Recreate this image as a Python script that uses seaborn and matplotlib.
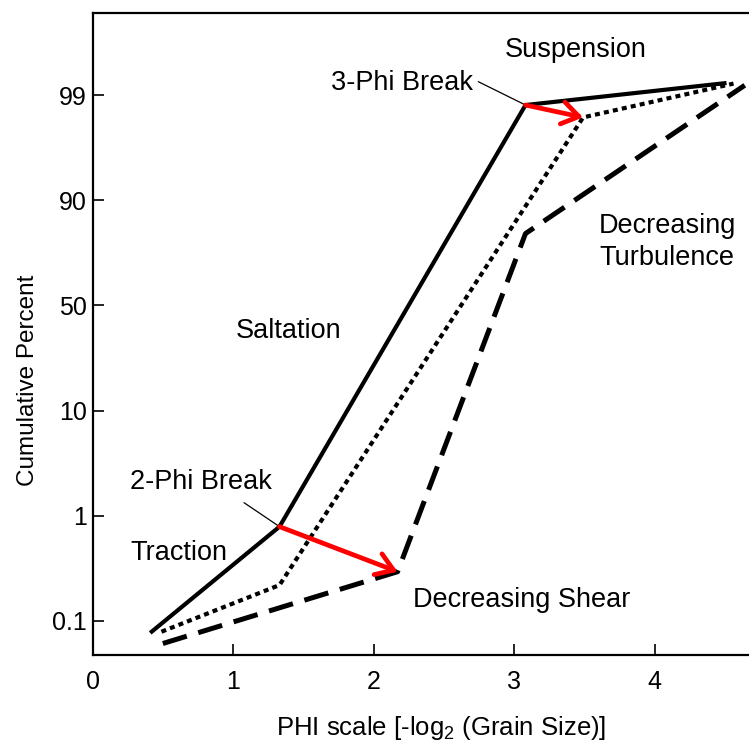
import numpy as np
import matplotlib
matplotlib.use("Agg")
import matplotlib.pyplot as plt
import seaborn as sns
from matplotlib.patches import ArrowStyle

# Cumulative grain-size curves: phi value and cumulative percent at each vertex
solid_phi = [0.41, 1.33, 3.08, 4.51]
solid_pct = [0.077, 0.79, 98.75, 99.24]
dotted_phi = [0.49, 1.33, 3.49, 4.56]
dotted_pct = [0.079, 0.22, 98.35, 99.23]
dashed_phi = [0.50, 2.17, 3.08, 4.64]
dashed_pct = [0.061, 0.295, 81.8, 99.2]

x_ticks = [0, 1, 2, 3, 4]
y_ticks = [0.1, 1, 10, 50, 90, 99]
y_tick_labels = ["0.1", "1", "10", "50", "90", "99"]
y_minor_ticks = [15, 20, 30, 40]

# Probability axis: major ticks evenly spaced, logit interpolation in between
_knots = np.log10(np.array(y_ticks) / (100.0 - np.array(y_ticks)))
_pos = np.arange(len(y_ticks), dtype=float)


def _interp_ext(v, xs, ys):
    v = np.asarray(v, dtype=float)
    out = np.interp(v, xs, ys)
    s0 = (ys[1] - ys[0]) / (xs[1] - xs[0])
    s1 = (ys[-1] - ys[-2]) / (xs[-1] - xs[-2])
    out = np.where(v < xs[0], ys[0] + (v - xs[0]) * s0, out)
    out = np.where(v > xs[-1], ys[-1] + (v - xs[-1]) * s1, out)
    return out


def pct_to_pos(p):
    p = np.clip(np.asarray(p, dtype=float), 1e-9, 100 - 1e-9)
    return _interp_ext(np.log10(p / (100.0 - p)), _knots, _pos)


def pos_to_pct(y):
    lg = np.clip(_interp_ext(y, _pos, _knots), -30, 30)
    r = 10.0 ** lg
    return 100.0 * r / (1.0 + r)


sns.set_theme(style="white")
plt.rcParams["font.family"] = ["Liberation Sans", "DejaVu Sans"]
plt.rcParams["mathtext.fontset"] = "custom"
plt.rcParams["mathtext.rm"] = "Liberation Sans"
plt.rcParams["mathtext.it"] = "Liberation Sans:italic"

fig = plt.figure(figsize=(7.49, 7.42), dpi=100)
ax = fig.add_axes([0.1236, 0.1173, 0.8764, 0.8656])
ax.set_yscale("function", functions=(pct_to_pos, pos_to_pct))

sns.lineplot(x=solid_phi, y=solid_pct, ax=ax, color="black", lw=3.0,
             estimator=None, sort=False, solid_capstyle="butt")
sns.lineplot(x=dotted_phi, y=dotted_pct, ax=ax, color="black", lw=3.0,
             linestyle=(0, (1.2, 1.0)), estimator=None, sort=False)
sns.lineplot(x=dashed_phi, y=dashed_pct, ax=ax, color="black", lw=3.6,
             linestyle=(0, (5, 2.4)), estimator=None, sort=False)

ax.set_xlim(0, 4.67)
ax.set_ylim(float(pos_to_pct(-0.323)), float(pos_to_pct(5.784)))

ax.set_xticks(x_ticks)
ax.set_xticklabels([str(t) for t in x_ticks])
ax.set_yticks(y_ticks)
ax.set_yticklabels(y_tick_labels)
ax.set_yticks(y_minor_ticks, minor=True)
ax.yaxis.set_minor_formatter(matplotlib.ticker.NullFormatter())

ax.tick_params(axis="both", which="both", direction="in", length=8,
               width=1.2, color="black", labelcolor="black")
ax.tick_params(axis="x", labelsize=18, pad=11, bottom=True, top=False)
ax.tick_params(axis="y", labelsize=18, pad=4, left=True, right=False)

for side in ("left", "top", "bottom"):
    ax.spines[side].set_color("black")
    ax.spines[side].set_linewidth(1.6)
ax.spines["right"].set_visible(False)

ax.set_xlabel(r"PHI scale [-log$_\mathregular{2}$ (Grain Size)]", fontsize=18.5,
              color="black")
ax.xaxis.set_label_coords(0.5308, -0.092)
ax.set_ylabel("Cumulative Percent", fontsize=17.5, color="black")
ax.yaxis.set_label_coords(-0.0817, 0.428)

# Shift arrows between the sorting curves
arrow_kw = dict(arrowstyle=ArrowStyle("->", head_length=0.6, head_width=0.4),
                color="#ff0000", lw=3.4, mutation_scale=20,
                shrinkA=0, shrinkB=0)
ax.annotate("", xy=(dashed_phi[1], dashed_pct[1]),
            xytext=(solid_phi[1], solid_pct[1]), arrowprops=arrow_kw, zorder=6)
ax.annotate("", xy=(dotted_phi[2], dotted_pct[2]),
            xytext=(solid_phi[2], solid_pct[2]), arrowprops=arrow_kw, zorder=6)

# Leader lines for the break labels
lead_kw = dict(arrowstyle="-", color="black", lw=0.9, shrinkA=0, shrinkB=0)
ax.annotate("", xy=(solid_phi[1], solid_pct[1]), xytext=(0.2307, 0.2371),
            textcoords="axes fraction", arrowprops=lead_kw)
ax.annotate("", xy=(solid_phi[2], solid_pct[2]), xytext=(0.5876, 0.8926),
            textcoords="axes fraction", arrowprops=lead_kw)

label_kw = dict(transform=ax.transAxes, ha="center", va="baseline",
                fontsize=19.5, color="black")
ax.text(0.7361, 0.9306, "Suspension", **label_kw)
ax.text(0.4709, 0.8797, "3-Phi Break", **label_kw)
ax.text(0.2992, 0.4935, "Saltation", **label_kw)
ax.text(0.8751, 0.6570, "Decreasing", **label_kw)
ax.text(0.8751, 0.6072, "Turbulence", **label_kw)
ax.text(0.1648, 0.2580, "2-Phi Break", **label_kw)
ax.text(0.1319, 0.1479, "Traction", **label_kw)
ax.text(0.6530, 0.0747, "Decreasing Shear", **label_kw)

fig.savefig("out.png", dpi=100, facecolor="white")
